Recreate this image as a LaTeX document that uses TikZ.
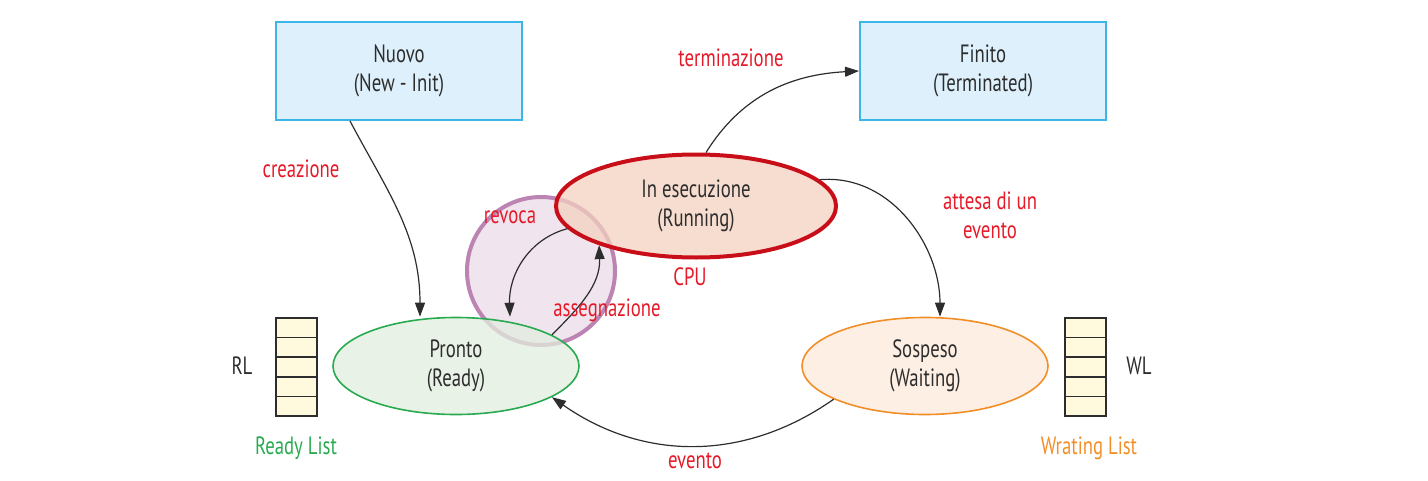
\documentclass[tikz,border=0pt]{standalone}
\usepackage{fontspec}
\setmainfont[FakeStretch=0.75]{PT Sans}
\usetikzlibrary{shapes.geometric,arrows.meta,calc}
\definecolor{txtgray}{RGB}{45,45,45}
\definecolor{lblred}{RGB}{230,25,40}
\definecolor{boxblue}{RGB}{222,240,252}
\definecolor{boxline}{RGB}{60,182,232}
\definecolor{runfill}{RGB}{244,208,192}
\definecolor{runline}{RGB}{200,15,25}
\definecolor{readyfill}{RGB}{226,238,222}
\definecolor{readyline}{RGB}{40,170,80}
\definecolor{waitfill}{RGB}{253,234,218}
\definecolor{waitline}{RGB}{242,142,40}
\definecolor{cpufill}{RGB}{240,228,238}
\definecolor{cpuline}{RGB}{188,132,178}
\definecolor{cellfill}{RGB}{255,249,222}
\tikzset{
  statebox/.style={draw=boxline,line width=1pt,fill=boxblue,rectangle,minimum width=123pt,minimum height=49pt,align=center,text=txtgray},
  stateell/.style={ellipse,inner sep=0pt,align=center,text=txtgray,fill opacity=0.75,text opacity=1},
  listcell/.style={draw=txtgray,line width=0.8pt,fill=cellfill,rectangle,inner sep=0pt,minimum width=20.5pt,minimum height=9.8pt},
  lbl/.style={text=lblred,align=center},
  arr/.style={-{Triangle[length=7pt,width=5pt]},line width=0.6pt,draw=txtgray}
}
\newcommand{\tikzListNode}[2]{
  \foreach \i in {1,...,5} {
    \node[listcell] (#1\i) at ($(#2)+(0,{(3-\i)*19.6})$) {};
  }
}

\begin{document}
\begin{tikzpicture}[x=0.5pt,y=0.5pt,font=\fontsize{12.5}{14.5}\selectfont]
  \useasboundingbox (0,0) rectangle (1428,-481);
  % the cpu circle, below the states
  \node [circle,draw=cpuline,line width=2pt,fill=cpufill,minimum size=74pt,inner sep=0pt] (cpu) at (541,-271) {};
  % states
  \node [statebox] (nuovo) at (399,-71) {Nuovo\\(New - Init)};
  \node [statebox] (finito) at (983,-71) {Finito\\(Terminated)};
  \node [stateell,draw=runline,line width=2pt,fill=runfill,minimum width=140pt,minimum height=51.5pt] (running) at (696,-206) {In esecuzione\\(Running)};
  \node [stateell,draw=readyline,line width=0.8pt,fill=readyfill,minimum width=123pt,minimum height=48.5pt] (pronto) at (456,-366) {Pronto\\(Ready)};
  \node [stateell,draw=waitline,line width=0.8pt,fill=waitfill,minimum width=123pt,minimum height=48.5pt] (sospeso) at (925,-366) {Sospeso\\(Waiting)};
  % lists
  \tikzListNode{rl}{296.5,-367}
  \tikzListNode{wl}{1085.5,-367}
  \node [text=txtgray] (rllabel) at (242,-366) {RL};
  \node [text=txtgray] (wllabel) at (1139,-366) {WL};
  \node [text=readyline] (rlname) at (296,-448) {Ready List};
  \node [text=waitline] (wlname) at (1089,-448) {Wrating List};
  % transitions
  \draw [arr] ([xshift=-24.5pt]nuovo.south) to[out=-62,in=90] ([xshift=-18pt]pronto.north);
  \draw [arr] ([xshift=5pt]running.north) to[out=58,in=183] (finito.west);
  \draw [arr] (running.12) to[out=5,in=90] ([xshift=7.5pt]sospeso.north);
  \draw [arr] (sospeso.200) to[out=215,in=-35] (pronto.-18);
  \draw [arr] (running.190) to[out=195,in=92] ([xshift=27pt]pronto.north);
  \draw [arr] (pronto.18) to[out=45,in=-88] (running.202);
  % labels
  \node [lbl] (lcrea) at (301,-169) {creazione};
  \node [lbl] (lterm) at (731,-58) {terminazione};
  \node [lbl] (latt) at (990,-215) {attesa di un\\evento};
  \node [lbl] (lrev) at (510,-217) {revoca};
  \node [lbl] (lcpu) at (690,-277) {CPU};
  \node [lbl] (lass) at (607,-310) {assegnazione};
  \node [lbl] (levt) at (695,-461) {evento};
\end{tikzpicture}
\end{document}
